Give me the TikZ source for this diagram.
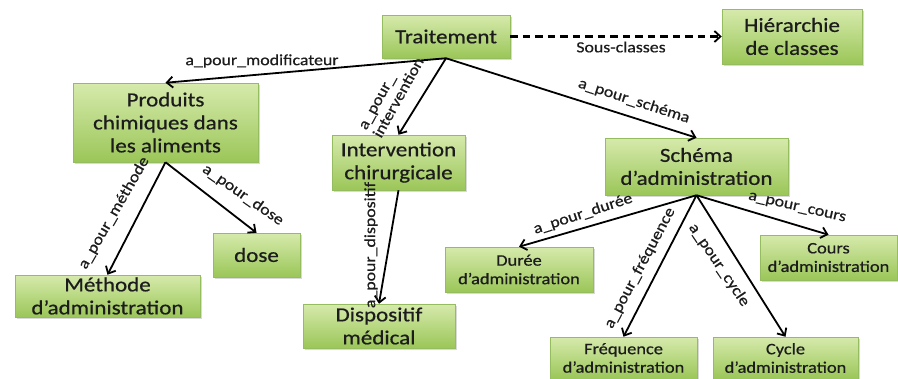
\documentclass[tikz,border=0pt]{standalone}
\usepackage{fontspec}
\setmainfont{Carlito}[FakeStretch=1.15,FakeBold=0.6]
\usetikzlibrary{arrows.meta,shadows}
\definecolor{boxtop}{RGB}{214,234,172}
\definecolor{boxbot}{RGB}{155,198,88}
\definecolor{boxline}{RGB}{150,188,96}
\definecolor{txt}{RGB}{28,28,28}
\tikzset{
  box/.style={rectangle, draw=boxline, line width=0.5pt, top color=boxtop, bottom color=boxbot,
    align=center, text=txt, inner sep=0pt,
    drop shadow={shadow xshift=1.5pt, shadow yshift=-1.5pt, opacity=0.25, fill=black!60}},
  bigbox/.style={box, font=\fontsize{20}{23}\selectfont},
  smallbox/.style={box, font=\fontsize{16}{18.5}\selectfont},
  lab/.style={font=\fontsize{15.5}{17}\selectfont, text=txt, inner sep=0.5pt, align=left},
  arr/.style={line width=1.8pt, -{Straight Barb[length=6pt,width=11pt,line width=1.8pt]}},
  darr/.style={arr, line width=2.2pt, dash pattern=on 7.5pt off 5pt}
}
\begin{document}
\begin{tikzpicture}[x=1pt,y=-1pt]
\useasboundingbox (0,0) rectangle (898,378);
% boxes
\node[bigbox, minimum width=128pt, minimum height=43pt] (trait) at (446,36.5) {Traitement};
\node[bigbox, minimum width=140pt, minimum height=55pt] (hier) at (792,36.5) {Hiérarchie\\de classes};
\node[bigbox, minimum width=185pt, minimum height=79pt] (prod) at (165.5,122.5) {Produits\\chimiques dans\\les aliments};
\node[bigbox, minimum width=133pt, minimum height=55pt] (interv) at (398.5,162.5) {Intervention\\chirurgicale};
\node[bigbox, minimum width=183pt, minimum height=57pt] (schema) at (696.5,166.5) {Schéma\\d’administration};
\node[bigbox, minimum width=185pt, minimum height=42pt] (meth) at (107.5,296) {Méthode\\d’administration};
\node[bigbox, minimum width=87pt, minimum height=44pt] (dose) at (256.5,255) {dose};
\node[bigbox, minimum width=152pt, minimum height=44pt] (disp) at (379,326) {Dispositif\\médical};
\node[smallbox, minimum width=148pt, minimum height=45pt] (duree) at (519,269.5) {Durée\\d’administration};
\node[smallbox, minimum width=137pt, minimum height=45pt] (cours) at (828.5,257.5) {Cours\\d’administration};
\node[smallbox, minimum width=147pt, minimum height=42pt] (freq) at (623.5,358) {Fréquence\\d’administration};
\node[smallbox, minimum width=145pt, minimum height=42pt] (cycle) at (785.5,358) {Cycle\\d’administration};
% connectors
\draw[darr] (trait.east) -- (hier.west);
\draw[arr] (trait.south) -- (prod.north);
\draw[arr] (trait.south) -- (interv.north);
\draw[arr] (trait.south) -- (schema.north);
\draw[arr] (prod.south) -- (meth.north);
\draw[arr] (prod.south) -- (dose.north);
\draw[arr] (interv.south) -- (disp.north);
\draw[arr] (schema.south) -- (duree.north);
\draw[arr] (schema.south) -- (freq.north);
\draw[arr] (schema.south) -- (cycle.north);
\draw[arr] (schema.south) -- (cours.north);
% labels
\node[lab] (lsous) at (621,47) {Sous-classes};
\node[lab] (lmod) at (262,61) {a\_pour\_modificateur};
\node[lab, rotate=61] (lint) at (392,94) {a\_pour\_\\intervention};
\node[lab, rotate=-18] (lsch) at (634,101) {a\_pour\_schéma};
\node[lab, rotate=60] (lmeth) at (114,213) {a\_pour\_méthode};
\node[lab, rotate=-35] (ldose) at (243,195) {a\_pour\_dose};
\node[lab, rotate=90] (ldisp) at (371,245) {a\_pour\_dispositif};
\node[lab, rotate=18] (ldur) at (583,214) {a\_pour\_durée};
\node[lab, rotate=62] (lfreq) at (640,268) {a\_pour\_fréquence};
\node[lab, rotate=-56] (lcyc) at (719,265) {a\_pour\_cycle};
\node[lab, rotate=-13] (lcours) at (797,208) {a\_pour\_cours};
\end{tikzpicture}
\end{document}
